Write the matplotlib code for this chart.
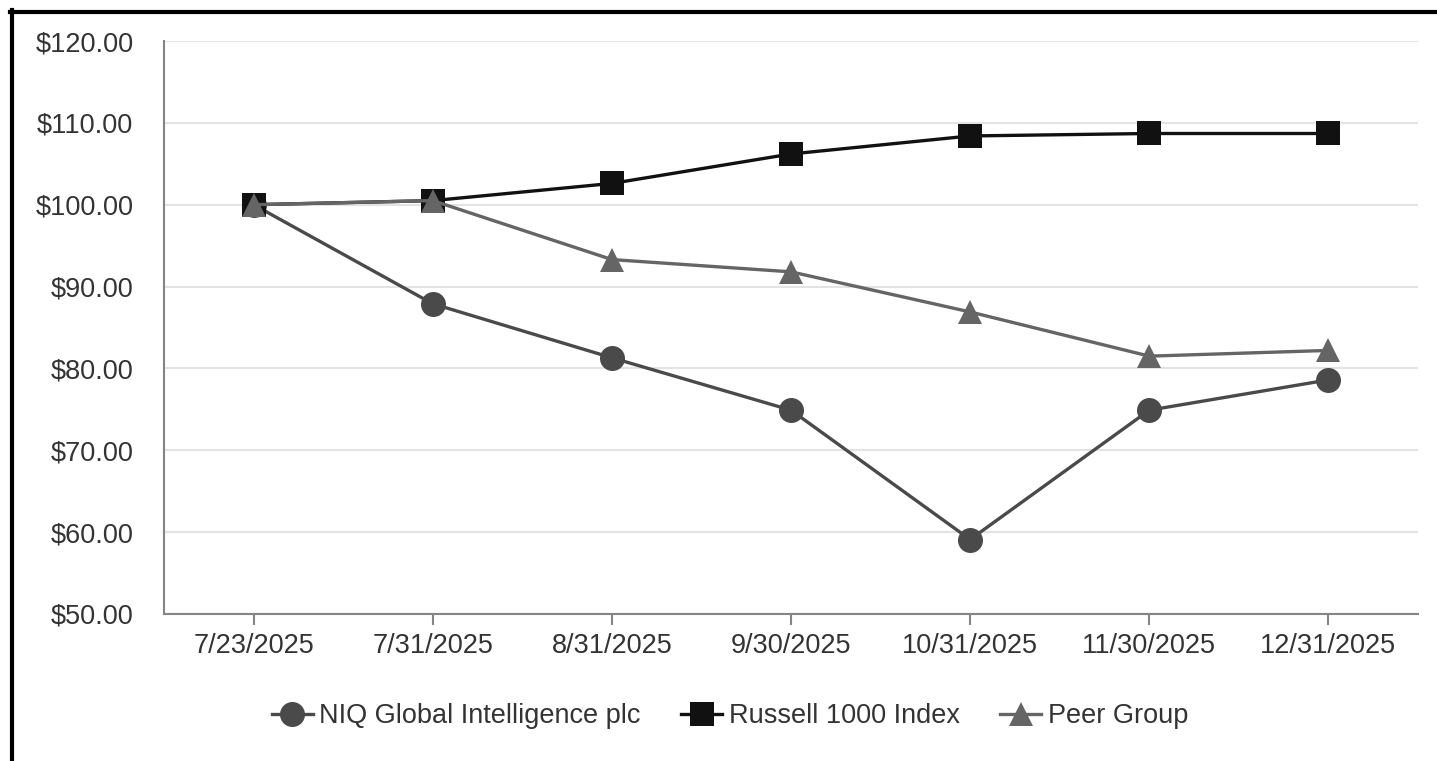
import matplotlib
matplotlib.use("Agg")
import matplotlib.pyplot as plt
from matplotlib.lines import Line2D
from matplotlib.ticker import FuncFormatter

plt.rcParams['font.family'] = ['Liberation Sans', 'DejaVu Sans']

dates = ["7/23/2025", "7/31/2025", "8/31/2025", "9/30/2025",
         "10/31/2025", "11/30/2025", "12/31/2025"]
niq = [100.0, 87.9, 81.3, 74.9, 59.1, 74.9, 78.6]
russell = [100.0, 100.5, 102.6, 106.2, 108.4, 108.7, 108.7]
peer = [100.0, 100.5, 93.3, 91.8, 86.9, 81.5, 82.2]

fig = plt.figure(figsize=(14.37, 7.61), dpi=100)
ax = fig.add_axes([164 / 1437, 1 - 614 / 761, (1418 - 164) / 1437, (614 - 41) / 761])

x = range(len(dates))
series = [
    ("NIQ Global Intelligence plc", niq, "#4a4a4a", "o", 18),
    ("Russell 1000 Index", russell, "#111111", "s", 17),
    ("Peer Group", peer, "#656565", "^", 17),
]
for name, vals, col, mk, ms in series:
    ax.plot(x, vals, color=col, lw=2.4, marker=mk, markersize=ms,
            markeredgewidth=0, label=name)

ax.set_xlim(-0.5, len(dates) - 0.5)
ax.set_ylim(50, 120)
ax.set_yticks(range(50, 121, 10))
ax.yaxis.set_major_formatter(FuncFormatter(lambda v, p: f"${v:.2f}"))
ax.set_xticks(list(x))
ax.set_xticklabels(dates)

ax.grid(axis="y", color="#e3e3e3", lw=1.5)
ax.set_axisbelow(True)
for s in ["top", "right"]:
    ax.spines[s].set_visible(False)
for s in ["left", "bottom"]:
    ax.spines[s].set_color("#858585")
    ax.spines[s].set_linewidth(1.5)

ax.tick_params(axis="y", length=0, pad=22, labelsize=19.5, labelcolor="#333333")
ax.tick_params(axis="x", length=8, width=1.5, color="#858585", pad=6,
               labelsize=19.5, labelcolor="#333333")

fig.legend(loc="center", bbox_to_anchor=(0.508, 1 - 716 / 761), ncol=3,
           frameon=False, fontsize=19.5, handlelength=1.5, handletextpad=0.25,
           columnspacing=1.5, labelcolor="#333333", markerscale=1.0)

# outer border lines (top and left)
fig.add_artist(Line2D([10 / 1437, 1.0], [1 - 12 / 761, 1 - 12 / 761],
                      transform=fig.transFigure, color="black", lw=3))
fig.add_artist(Line2D([11.5 / 1437, 11.5 / 1437], [0, 1 - 10 / 761],
                      transform=fig.transFigure, color="black", lw=3))

fig.savefig("out.png", dpi=100)
